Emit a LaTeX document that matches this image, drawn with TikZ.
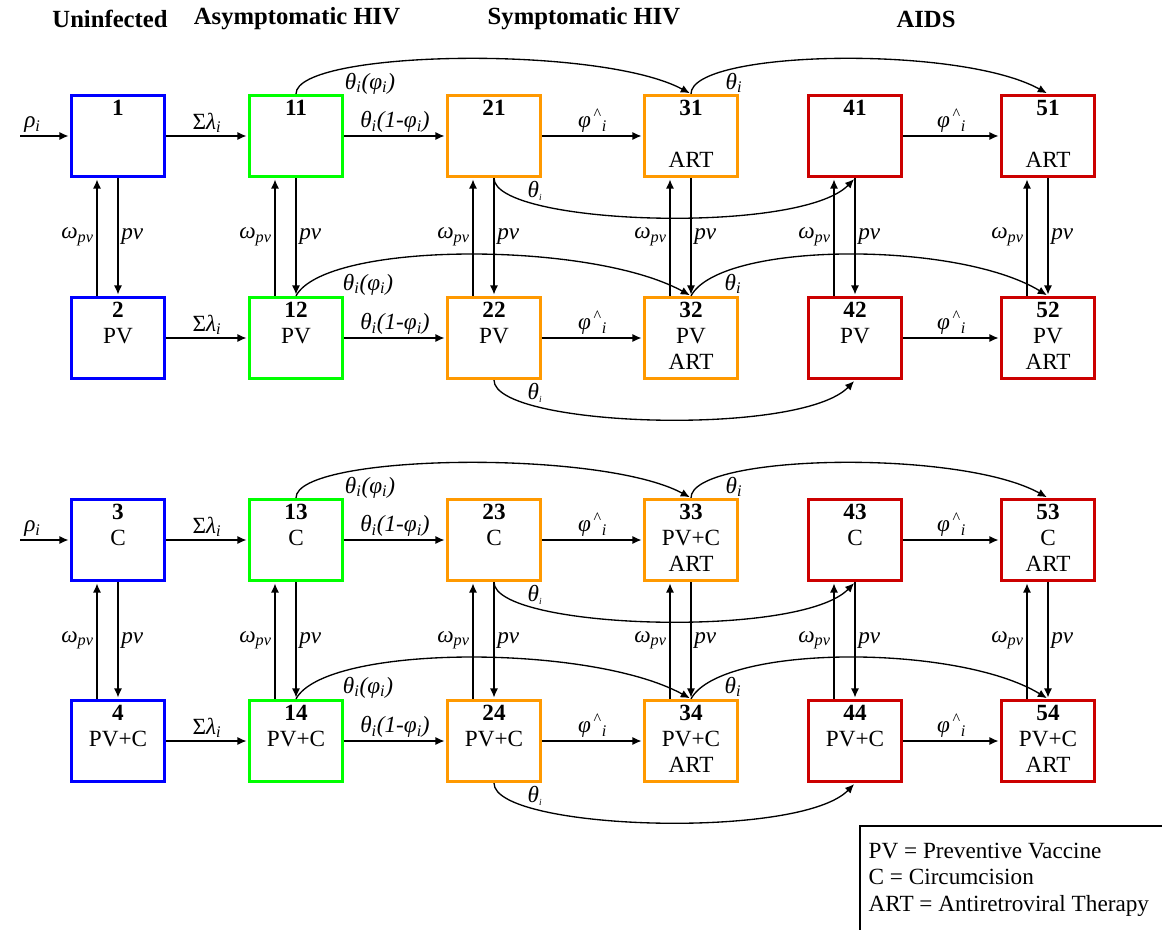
\documentclass[tikz,border=0pt]{standalone}
\usepackage{fontspec}
\setmainfont{Liberation Serif}
\usetikzlibrary{arrows.meta,calc}

\definecolor{uninf}{RGB}{0,0,255}
\definecolor{asym}{RGB}{0,255,0}
\definecolor{symp}{RGB}{255,153,0}
\definecolor{aids}{RGB}{204,0,0}

\newcommand{\cellt}[3]{\strut\textbf{#1}\\\strut #2\\\strut #3}
\newcommand{\thi}{\textit{θ\textsubscript{i}}}
\newcommand{\thphi}{\textit{θ\textsubscript{i}(φ\textsubscript{i})}}
\newcommand{\thone}{\textit{θ\textsubscript{i}(1-φ\textsubscript{i})}}
\newcommand{\phat}{\textit{φ}\textsuperscript{\,\textasciicircum}\textsubscript{\textit{i}}}
\newcommand{\slam}{Σ\textit{λ\textsubscript{i}}}
\newcommand{\wpv}{\textit{ω\textsubscript{pv}}}

\begin{document}
\begin{tikzpicture}[x=0.75pt,y=-0.75pt,->,>={Latex[length=6.8pt,width=6pt]},
    shorten >=1pt,line width=1pt,
    font=\fontsize{17.4}{19.5}\selectfont,
    cell/.style={draw=#1,line width=2.2pt,minimum width=70pt,minimum height=61pt,
                 inner sep=0pt,align=center},
    head/.style={font=\fontsize{18.5}{20}\selectfont\bfseries},
    lbl/.style={inner sep=2pt}]
  \useasboundingbox (0,0) rectangle (1162,930);

  % stage headings
  \node[head] (hU) at (110,19) {Uninfected};
  \node[head] (hA) at (297,19) {Asymptomatic HIV};
  \node[head] (hS) at (584,19) {Symptomatic HIV};
  \node[head] (hD) at (926,19) {AIDS};

  % compartments
  \node[cell=uninf] (n1)  at (118,136)  {\cellt{1}{}{}};
  \node[cell=asym]  (n11) at (296,136)  {\cellt{11}{}{}};
  \node[cell=symp]  (n21) at (494,136)  {\cellt{21}{}{}};
  \node[cell=symp]  (n31) at (691,136)  {\cellt{31}{}{ART}};
  \node[cell=aids]  (n41) at (855,136)  {\cellt{41}{}{}};
  \node[cell=aids]  (n51) at (1048,136) {\cellt{51}{}{ART}};

  \node[cell=uninf] (n2)  at (118,338)  {\cellt{2}{PV}{}};
  \node[cell=asym]  (n12) at (296,338)  {\cellt{12}{PV}{}};
  \node[cell=symp]  (n22) at (494,338)  {\cellt{22}{PV}{}};
  \node[cell=symp]  (n32) at (691,338)  {\cellt{32}{PV}{ART}};
  \node[cell=aids]  (n42) at (855,338)  {\cellt{42}{PV}{}};
  \node[cell=aids]  (n52) at (1048,338) {\cellt{52}{PV}{ART}};

  \node[cell=uninf] (n3)  at (118,540)  {\cellt{3}{C}{}};
  \node[cell=asym]  (n13) at (296,540)  {\cellt{13}{C}{}};
  \node[cell=symp]  (n23) at (494,540)  {\cellt{23}{C}{}};
  \node[cell=symp]  (n33) at (691,540)  {\cellt{33}{PV+C}{ART}};
  \node[cell=aids]  (n43) at (855,540)  {\cellt{43}{C}{}};
  \node[cell=aids]  (n53) at (1048,540) {\cellt{53}{C}{ART}};

  \node[cell=uninf] (n4)  at (118,741)  {\cellt{4}{PV+C}{}};
  \node[cell=asym]  (n14) at (296,741)  {\cellt{14}{PV+C}{}};
  \node[cell=symp]  (n24) at (494,741)  {\cellt{24}{PV+C}{}};
  \node[cell=symp]  (n34) at (691,741)  {\cellt{34}{PV+C}{ART}};
  \node[cell=aids]  (n44) at (855,741)  {\cellt{44}{PV+C}{}};
  \node[cell=aids]  (n54) at (1048,741) {\cellt{54}{PV+C}{ART}};

  % inflow
  \coordinate (in1) at (20,136);
  \coordinate (in3) at (20,540);
  \path (in1) edge node[lbl,above,pos=0.25] {\textit{ρ\textsubscript{i}}} (n1)
        (in3) edge node[lbl,above,pos=0.25] {\textit{ρ\textsubscript{i}}} (n3);

  % progression along each row
  \foreach \r in {1,2,3,4} {
    \path (n\r) edge node[lbl,above] {\slam} (n1\r)
          (n1\r) edge node[lbl,above] {\thone} (n2\r)
          (n2\r) edge node[lbl,above] {\phat} (n3\r)
          (n4\r) edge node[lbl,above] {\phat} (n5\r);
  }

  % vaccination and waning
  \foreach \a/\b in {1/2,11/12,21/22,31/32,41/42,51/52,3/4,13/14,23/24,33/34,43/44,53/54} {
    \draw ($(n\b.north)+(-21,0)$) -- node[lbl,left] {\wpv} ($(n\a.south)+(-21,0)$);
    \draw (n\a.south) -- node[lbl,right] {\textit{pv}} (n\b.north);
  }

  % jumps to ART and AIDS
  \foreach \r in {1,3} {
    \draw (n1\r.north) .. controls +(0,-44) and +(-91,-49) .. (n3\r.north);
    \draw (n3\r.north) .. controls +(0,-44) and +(-88,-49) .. (n5\r.north);
    \node[lbl] at ($(n1\r.north)+(74,-10)$) {\thphi};
    \node[lbl] at ($(n3\r.north)+(43,-11)$) {\thi};
  }
  \foreach \r in {2,4} {
    \draw (n1\r.north) .. controls +(30,-55) and +(-100,-55) .. (n3\r.north);
    \draw (n3\r.north) .. controls +(30,-55) and +(-90,-55) .. (n5\r.north);
    \node[lbl] at ($(n1\r.north)+(72,-11)$) {\thphi};
    \node[lbl] at ($(n3\r.north)+(42,-12)$) {\thi};
  }
  \foreach \r in {1,2,3,4} {
    \draw (n2\r.south) .. controls +(0,47) and +(-55,57) .. (n4\r.south);
    \node[lbl] at ($(n2\r.south)+(41,13)$) {\textit{θ}\textsubscript{\scriptsize\textit{i}}};
  }

  % legend
  \draw[-,line width=0.9pt] (860,945) |- (1175,826);
  \node[anchor=north west,align=left,inner sep=0pt,
        font=\fontsize{17.4}{19.9}\selectfont] (key) at (868,842)
    {PV = Preventive Vaccine\\C = Circumcision\\ART = Antiretroviral Therapy};
\end{tikzpicture}
\end{document}
